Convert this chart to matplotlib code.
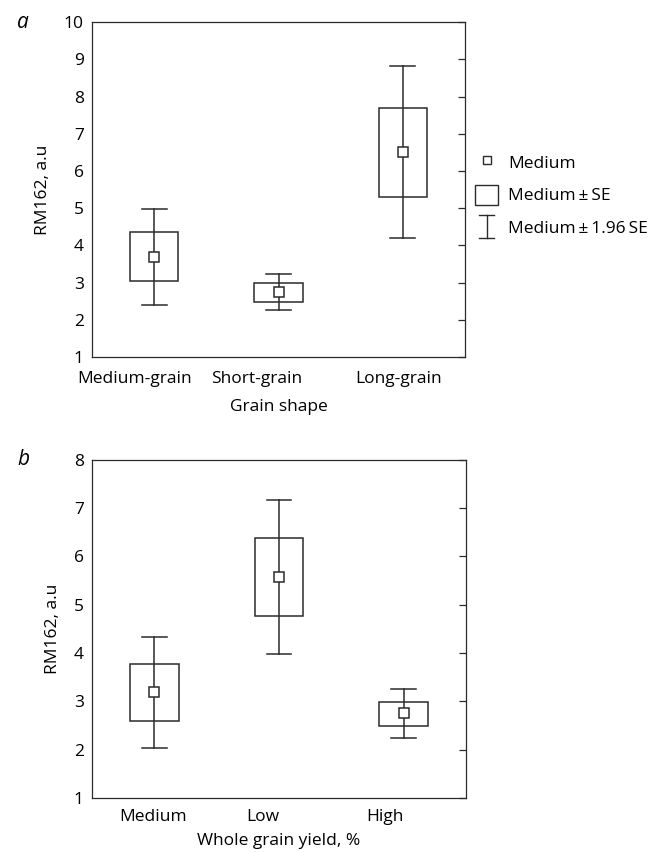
import matplotlib
matplotlib.use("Agg")
import matplotlib.pyplot as plt
from matplotlib.patches import Rectangle, Patch
from matplotlib.lines import Line2D
from matplotlib.legend_handler import HandlerBase
import numpy as np

plt.rcParams['font.family'] = ['Open Sans', 'DejaVu Sans']
FS = 12.5

# panel a: grain shape
shape_cats = ["Medium-grain", "Short-grain", "Long-grain"]
shape_mean = [3.70, 2.75, 6.50]
shape_se_lo = [3.04, 2.47, 5.31]
shape_se_hi = [4.35, 2.99, 7.68]
shape_ci_lo = [2.40, 2.25, 4.19]
shape_ci_hi = [4.98, 3.24, 8.83]

# panel b: whole grain yield
yield_cats = ["Medium", "Low", "High"]
yield_mean = [3.19, 5.57, 2.75]
yield_se_lo = [2.59, 4.77, 2.50]
yield_se_hi = [3.77, 6.39, 2.99]
yield_ci_lo = [2.03, 3.97, 2.24]
yield_ci_hi = [4.33, 7.17, 3.25]

EDGE = "#2b2b2b"
BOX_W = 0.39
CAP_W = 0.2


class WhiskerHandle:
    pass


class HandlerWhisker(HandlerBase):
    # draws the "I" symbol used for the 1.96 SE whiskers
    def create_artists(self, legend, orig_handle, xdescent, ydescent, width, height, fontsize, trans):
        cx = width / 2 - xdescent
        y0 = -ydescent - 1
        y1 = -ydescent + height + 1
        cw = width * 0.32
        arts = []
        for xs, ys in (([cx, cx], [y0, y1]), ([cx - cw, cx + cw], [y0, y0]), ([cx - cw, cx + cw], [y1, y1])):
            ln = Line2D(xs, ys, color=EDGE, lw=1.0)
            ln.set_transform(trans)
            arts.append(ln)
        return arts


def draw_panel(ax, cats, mean, se_lo, se_hi, ci_lo, ci_hi, label_pos, ylim, xlabel, letter, tpad, lpad):
    x = np.arange(len(cats))
    for i in x:
        # whisker
        ax.plot([i, i], [ci_lo[i], ci_hi[i]], color=EDGE, lw=1.1, zorder=1)
        for v in (ci_lo[i], ci_hi[i]):
            ax.plot([i - CAP_W / 2, i + CAP_W / 2], [v, v], color=EDGE, lw=1.1, zorder=1)
        # SE box
        ax.add_patch(Rectangle((i - BOX_W / 2, se_lo[i]), BOX_W, se_hi[i] - se_lo[i],
                               fill=False, edgecolor=EDGE, lw=1.1, zorder=2))
    ax.plot(x, mean, ls="none", marker="s", ms=7, mfc="white", mec=EDGE, mew=1.1, zorder=3)

    ax.set_xlim(-0.5, 2.5)
    ax.set_ylim(*ylim)
    ax.set_yticks(np.arange(ylim[0], ylim[1] + 1))
    ax.set_xticks(label_pos)
    ax.set_xticklabels(cats, fontsize=FS)
    ax.tick_params(axis="x", length=0, pad=tpad)
    ax.tick_params(axis="y", left=False, right=True, direction="in", length=5,
                   width=0.9, color=EDGE, pad=6, labelsize=FS)
    for s in ax.spines.values():
        s.set_linewidth(0.9)
        s.set_color(EDGE)
    ax.set_xlabel(xlabel, fontsize=FS, labelpad=lpad)
    ax.set_ylabel("RM162, a.u", fontsize=FS, labelpad=9)
    ax.text(-0.2, 1.0, letter, transform=ax.transAxes, fontsize=15, style="italic",
            va="center", ha="left")


fig = plt.figure(figsize=(6.55, 8.52), dpi=100)
ax1 = fig.add_axes([0.1405, 0.581, 0.5695, 0.393])
ax2 = fig.add_axes([0.1405, 0.0634, 0.571, 0.397])

draw_panel(ax1, shape_cats, shape_mean, shape_se_lo, shape_se_hi, shape_ci_lo, shape_ci_hi,
           [-0.155, 0.825, 1.966], (1, 10), "Grain shape", "a", 10, 9)
draw_panel(ax2, yield_cats, yield_mean, yield_se_lo, yield_se_hi, yield_ci_lo, yield_ci_hi,
           [-0.011, 0.871, 1.85], (1, 8), "Whole grain yield, %", "b", 8, 6)

# legend
h_mean = Line2D([], [], ls="none", marker="s", ms=6, mfc="white", mec=EDGE, mew=1.0)
h_box = Patch(facecolor="white", edgecolor=EDGE, lw=1.0)
h_ci = WhiskerHandle()
ax1.legend([h_mean, h_box, h_ci], ["Medium", "Medium\u2009±\u2009SE", "Medium\u2009±\u20091.96\u2009SE"],
           handler_map={WhiskerHandle: HandlerWhisker()},
           loc="center left", bbox_to_anchor=(0.995, 0.485), frameon=False, fontsize=FS,
           handlelength=1.3, handleheight=1.4, handletextpad=0.6, labelspacing=0.7,
           borderpad=0.2)

fig.savefig("out.png", dpi=100)
